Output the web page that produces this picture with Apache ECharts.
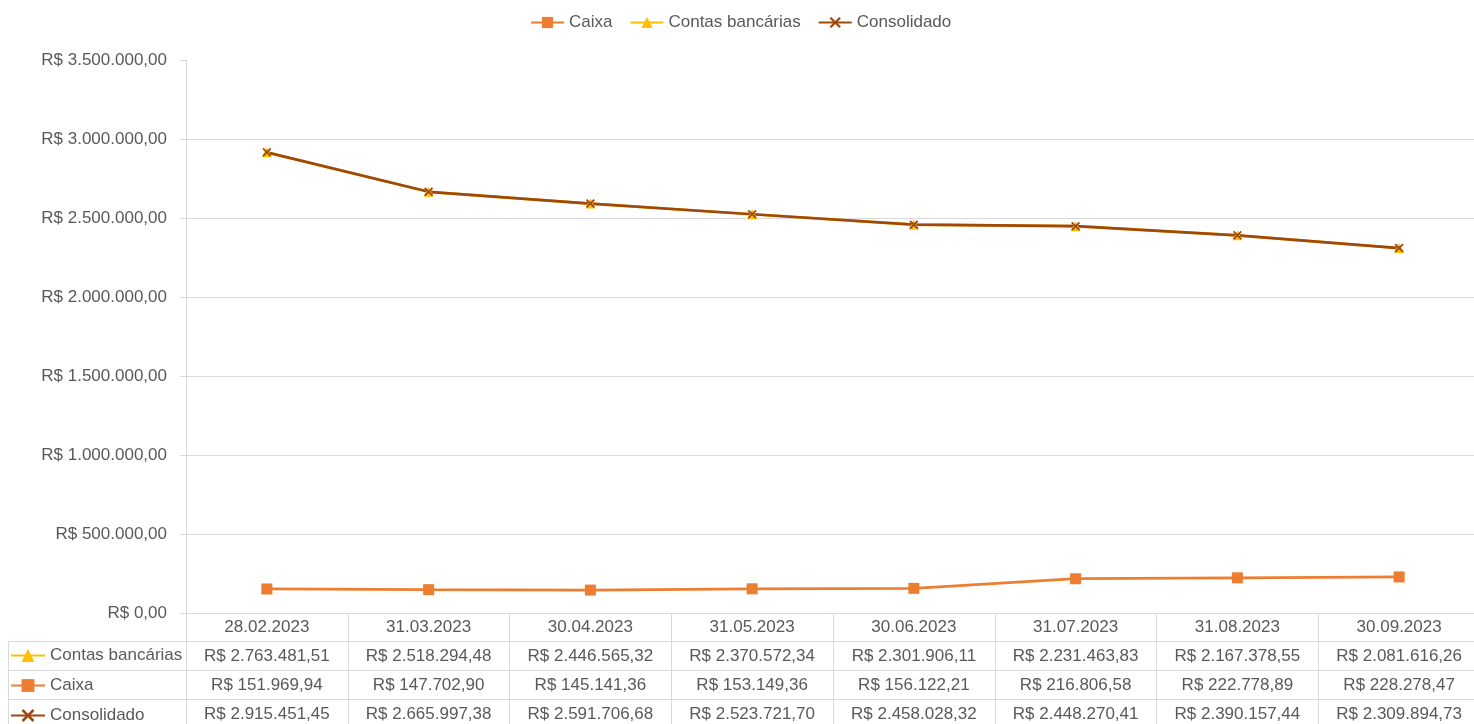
<!DOCTYPE html>
<html>
<head>
<meta charset="utf-8">
<script src="https://cdn.jsdelivr.net/npm/echarts@6/dist/echarts.min.js"></script>
<style>
  html, body { margin: 0; padding: 0; background: #fff; }
  #chart { width: 1474px; height: 724px; }
</style>
</head>
<body>
<div id="chart"></div>
<script>
  var datas = ['28.02.2023', '31.03.2023', '30.04.2023', '31.05.2023', '30.06.2023', '31.07.2023', '31.08.2023', '30.09.2023']
  var contas = [2763481.51, 2518294.48, 2446565.32, 2370572.34, 2301906.11, 2231463.83, 2167378.55, 2081616.26]
  var caixa = [151969.94, 147702.90, 145141.36, 153149.36, 156122.21, 216806.58, 222778.89, 228278.47]
  var consolidado = [2915451.45, 2665997.38, 2591706.68, 2523721.70, 2458028.32, 2448270.41, 2390157.44, 2309894.73]

  var fonte = 'Liberation Sans'
  var corTexto = '#595959'
  var corLinha = '#d9d9d9'
  var simboloX = 'path://M0,1.4L1.4,0L5,3.6L8.6,0L10,1.4L6.4,5L10,8.6L8.6,10L5,6.4L1.4,10L0,8.6L3.6,5Z'

  // formata no padrao R$ 1.234,56
  function brl (v) {
    var p = v.toFixed(2).split('.')
    return 'R$ ' + p[0].replace(/\B(?=(\d{3})+(?!\d))/g, '.') + ',' + p[1]
  }

  // eixo extra que funciona como linha da tabela de dados
  function linhaTabela (offset, valores) {
    return {
      type: 'category',
      position: 'bottom',
      offset: offset,
      data: datas,
      axisLine: {show: true, lineStyle: {color: corLinha}},
      axisTick: {show: false},
      axisLabel: {
        interval: 0,
        margin: 6,
        color: corTexto,
        fontFamily: fonte,
        fontSize: 17,
        formatter: function (v, i) { return brl(valores[i]) }
      }
    }
  }

  var chart = echarts.init(document.getElementById('chart'))
  chart.setOption({
    animation: false,
    textStyle: {fontFamily: fonte},
    legend: [
      {
        data: ['Caixa', 'Contas bancárias', 'Consolidado'],
        top: 9,
        left: 525,
        itemWidth: 33,
        itemHeight: 14,
        itemGap: 17,
        textStyle: {color: corTexto, fontSize: 17, fontFamily: fonte}
      },
      {
        data: ['Contas bancárias', 'Caixa', 'Consolidado'],
        orient: 'vertical',
        left: 10,
        top: 647,
        padding: 0,
        itemWidth: 34,
        itemHeight: 16,
        itemGap: 13,
        textStyle: {color: corTexto, fontSize: 17, fontFamily: fonte, lineHeight: 16}
      }
    ],
    grid: {left: 186, right: -6, top: 60, bottom: 111, containLabel: false, outerBoundsMode: 'none'},
    xAxis: [
      {
        type: 'category',
        data: datas,
        axisLine: {show: true, lineStyle: {color: corLinha}},
        axisTick: {show: true, interval: 0, length: 112, lineStyle: {color: corLinha}},
        axisLabel: {interval: 0, margin: 6, color: corTexto, fontFamily: fonte, fontSize: 17}
      },
      linhaTabela(28.5, contas),
      linhaTabela(57.5, caixa),
      linhaTabela(86.5, consolidado)
    ],
    yAxis: {
      type: 'value',
      min: 0,
      max: 3500000,
      interval: 500000,
      axisLine: {show: true, lineStyle: {color: corLinha}},
      axisTick: {show: true, length: 6, lineStyle: {color: corLinha}},
      splitLine: {show: true, showMaxLine: false, lineStyle: {color: corLinha}},
      axisLabel: {
        margin: 19,
        color: corTexto,
        fontFamily: fonte,
        fontSize: 17,
        formatter: function (v) { return brl(v) }
      }
    },
    graphic: [
      // bordas da coluna de legenda da tabela
      {type: 'line', shape: {x1: 8.5, y1: 641.5, x2: 186, y2: 641.5}, style: {stroke: corLinha}},
      {type: 'line', shape: {x1: 8.5, y1: 670.5, x2: 186, y2: 670.5}, style: {stroke: corLinha}},
      {type: 'line', shape: {x1: 8.5, y1: 699.5, x2: 186, y2: 699.5}, style: {stroke: corLinha}},
      {type: 'line', shape: {x1: 8.5, y1: 641.5, x2: 8.5, y2: 724}, style: {stroke: corLinha}}
    ],
    series: [
      {
        name: 'Caixa',
        type: 'line',
        stack: 'total',
        data: caixa,
        color: '#ED7D31',
        symbol: 'rect',
        symbolSize: 11,
        lineStyle: {width: 2.75}
      },
      {
        name: 'Contas bancárias',
        type: 'line',
        stack: 'total',
        data: contas,
        color: '#FFC000',
        symbol: 'triangle',
        symbolSize: 10,
        lineStyle: {width: 2.75}
      },
      {
        name: 'Consolidado',
        type: 'line',
        data: consolidado,
        color: '#9E480E',
        symbol: simboloX,
        symbolSize: 9,
        lineStyle: {width: 2.75}
      }
    ]
  })
</script>
</body>
</html>
